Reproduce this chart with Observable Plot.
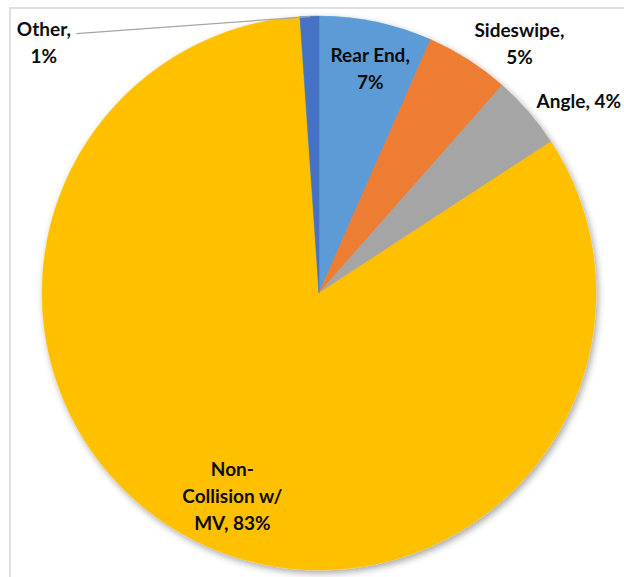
<!DOCTYPE html>
<html>
<head>
<meta charset="utf-8">
<script src="https://cdn.jsdelivr.net/npm/d3@7"></script>
<script src="https://cdn.jsdelivr.net/npm/@observablehq/plot@0.6"></script>
<style>
  html, body { margin: 0; padding: 0; background: #fff; }
  #wrap { position: relative; width: 624px; height: 577px; overflow: hidden; }
  #border { position: absolute; left: 9px; top: 7px; width: 700px; height: 700px;
            border: 2px solid #e0e0e0; box-sizing: border-box; pointer-events: none; }
</style>
</head>
<body>
<div id="wrap"><div id="border"></div></div>
<script>
// ---- data ----
const categories = ["Rear End", "Sideswipe", "Angle", "Non-Collision w/ MV", "Other"];
const values = [6.6, 4.9, 4.3, 83.1, 1.1];
const labelTexts = ["Rear End,\n7%", "Sideswipe,\n5%", "Angle, 4%", "Non-\nCollision w/\nMV, 83%", "Other,\n1%"];

// ---- styles / layout ----
const colors = ["#5B9BD5", "#ED7D31", "#A5A5A5", "#FFC000", "#4472C4"];
// label placement: offset (degrees) from slice mid-angle and radius factor
const labelAngleOffset = [0.7, 5.9, 4.0, -3.0, -45.5];
const labelRadius = [0.84, 1.16, 1.17, 0.79, 1.35];

const data = categories.map((c, i) => ({category: c, value: values[i], label: labelTexts[i], color: colors[i]}));
const arcs = d3.pie().sort(null).value(d => d.value)(data);

const polar = (a, r) => [r * Math.sin(a), r * Math.cos(a)];
const labels = arcs.map((a, i) => {
  const mid = (a.startAngle + a.endAngle) / 2 + labelAngleOffset[i] * Math.PI / 180;
  const [x, y] = polar(mid, labelRadius[i]);
  return {x, y, text: a.data.label};
});

// leader line for "Other"
const otherArc = arcs[4];
const otherMid = (otherArc.startAngle + otherArc.endAngle) / 2;
const [lx1, ly1] = polar(-43.1 * Math.PI / 180, 1.285);
const [lx2, ly2] = polar(otherMid, 1.0);
const leaders = [{x1: lx1, y1: ly1, x2: lx2, y2: ly2}];

function slices(index, scales, values, dimensions) {
  const {x, y} = scales;
  const cx = x(0), cy = y(0), r = x(1) - x(0);
  const g = d3.create("svg:g");
  const defs = g.append("defs");
  const f = defs.append("filter").attr("id", "pieShadow")
    .attr("x", "-10%").attr("y", "-10%").attr("width", "120%").attr("height", "120%");
  f.append("feDropShadow").attr("dx", 2).attr("dy", 3).attr("stdDeviation", 3.5)
    .attr("flood-color", "#000").attr("flood-opacity", 0.35);
  const arc = d3.arc().innerRadius(0).outerRadius(r);
  g.append("g")
    .attr("transform", `translate(${cx},${cy})`)
    .attr("filter", "url(#pieShadow)")
    .selectAll("path").data(arcs).join("path")
    .attr("d", arc)
    .attr("fill", d => d.data.color)
    .attr("stroke", d => d.data.color)
    .attr("stroke-width", 0.5);
  return g.node();
}

const chart = Plot.plot({
  width: 624,
  height: 577,
  margin: 0,
  style: {background: "transparent", fontFamily: "Lato, 'Open Sans', sans-serif"},
  x: {domain: [-1, 1], range: [42, 596], axis: null},
  y: {domain: [-1, 1], range: [570, 16], axis: null},
  marks: [
    slices,
    Plot.link(leaders, {x1: "x1", y1: "y1", x2: "x2", y2: "y2", stroke: "#a6a6a6", strokeWidth: 1.2}),
    Plot.text(labels, {x: "x", y: "y", text: "text", fontSize: 19, fontWeight: "bold",
      fill: "#0d0d0d", lineHeight: 1.42, textAnchor: "middle", lineAnchor: "middle"})
  ]
});
chart.style.position = "absolute";
chart.style.left = "0";
chart.style.top = "0";
document.getElementById("wrap").prepend(chart);
</script>
</body>
</html>
